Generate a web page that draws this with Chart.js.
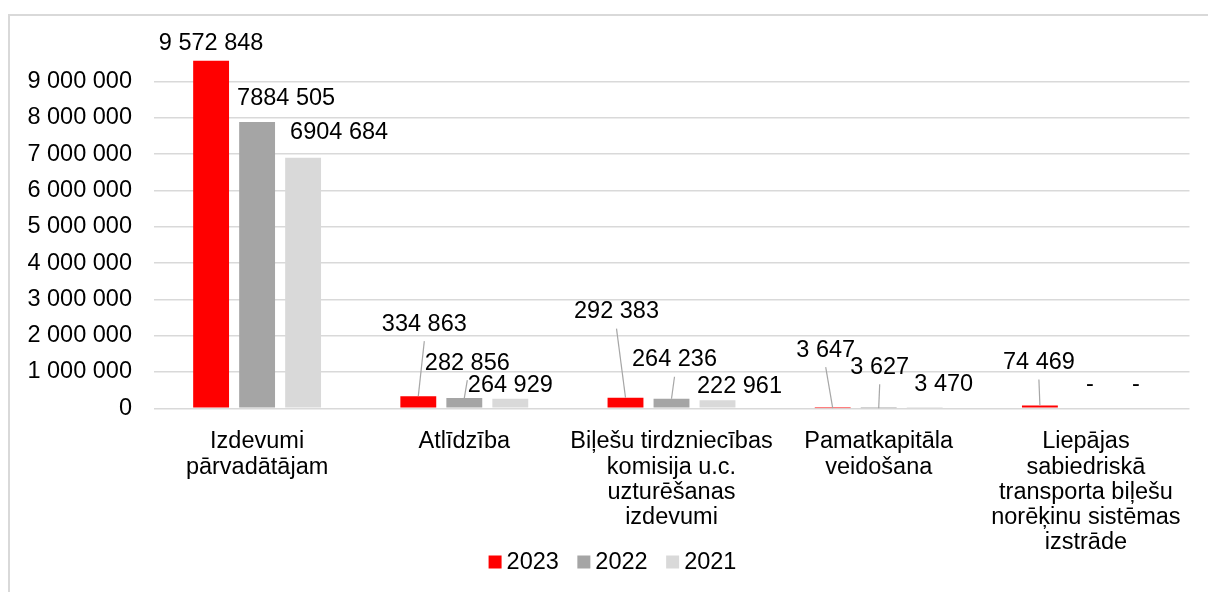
<!DOCTYPE html>
<html>
<head>
<meta charset="utf-8">
<script src="https://cdn.jsdelivr.net/npm/chart.js@4/dist/chart.umd.min.js"></script>
<style>
    html, body { margin: 0; padding: 0; background: #ffffff; }
    #wrap { width: 1208px; height: 592px; position: relative; }
</style>
</head>
<body>
<div id="wrap"><canvas id="costChart"></canvas></div>
<script>
// categories (multi-line, as wrapped in the original)
const categories = [
    ["Izdevumi", "pārvadātājam"],
    ["Atlīdzība"],
    ["Biļešu tirdzniecības", "komisija u.c.", "uzturēšanas", "izdevumi"],
    ["Pamatkapitāla", "veidošana"],
    ["Liepājas", "sabiedriskā", "transporta biļešu", "norēķinu sistēmas", "izstrāde"]
];
const seriesNames = ["2023", "2022", "2021"];

const values2023 = [9572848, 334863, 292383, 3647, 74469];
const values2022 = [7884505, 282856, 264236, 3627, 0];
const values2021 = [6904684, 264929, 222961, 3470, 0];

// data labels exactly as printed on the chart
const labels2023 = ["9 572 848", "334 863", "292 383", "3 647", "74 469"];
const labels2022 = ["7884 505", "282 856", "264 236", "3 627", "-"];
const labels2021 = ["6904 684", "264 929", "222 961", "3 470", "-"];

const yTicks = [0, 1000000, 2000000, 3000000, 4000000, 5000000, 6000000, 7000000, 8000000, 9000000];

const colors = ["#ff0000", "#a5a5a5", "#d9d9d9"];
const FONT = '"Liberation Sans", Arial, sans-serif';
const FSIZE = 23.5;

// where each data label sits, relative to the top centre of its bar
const labelOffsets = [
    [[0, -17], [6, -72], [-9, -86], [-7, -58], [-1, -43]],
    [[29, -24], [3, -35], [3, -39], [1, -41], [4, -24]],
    [[36, -25], [0, -13], [22, -14], [19, -24], [4, -24]]
];
const leaders = [
    [false, true, true, true, true],
    [false, true, true, true, false],
    [false, false, false, false, false]
];
const allLabels = [labels2023, labels2022, labels2021];

function spaced(v) {
    return String(v).replace(/\B(?=(\d{3})+(?!\d))/g, " ");
}

const frame = {
    id: "frame",
    beforeDraw(chart) {
        const c = chart.ctx;
        c.save();
        c.strokeStyle = "#d9d9d9";
        c.lineWidth = 2;
        c.strokeRect(9, 15, 1400, 800);
        c.restore();
    }
};

const dataLabels = {
    id: "dataLabels",
    afterDatasetsDraw(chart) {
        const c = chart.ctx;
        c.save();
        c.font = FSIZE + "px " + FONT;
        c.textAlign = "center";
        c.textBaseline = "middle";
        chart.data.datasets.forEach((ds, i) => {
            const meta = chart.getDatasetMeta(i);
            meta.data.forEach((bar, j) => {
                const lx = bar.x + labelOffsets[i][j][0];
                const ly = bar.y + labelOffsets[i][j][1];
                if (leaders[i][j]) {
                    c.strokeStyle = "#a6a6a6";
                    c.lineWidth = 1.2;
                    c.beginPath();
                    c.moveTo(lx, ly + 17);
                    c.lineTo(bar.x, bar.y);
                    c.stroke();
                }
                c.fillStyle = "#000000";
                c.fillText(allLabels[i][j], lx, ly);
            });
        });
        c.restore();
    }
};

const legendBox = {
    id: "legendBox",
    afterDraw(chart) {
        const c = chart.ctx;
        c.save();
        c.font = FSIZE + "px " + FONT;
        c.textBaseline = "middle";
        const box = 13, gap = 5, spacing = 18.5;
        const widths = seriesNames.map(n => box + gap + c.measureText(n).width);
        const total = widths.reduce((a, b) => a + b, 0) + spacing * (widths.length - 1);
        let x = 612.5 - total / 2;
        const y = 562;
        seriesNames.forEach((n, i) => {
            c.fillStyle = colors[i];
            c.fillRect(x, y - box / 2, box, box);
            c.fillStyle = "#000000";
            c.fillText(n, x + box + gap, y + 1);
            x += widths[i] + spacing;
        });
        c.restore();
    }
};

document.addEventListener("DOMContentLoaded", function() {
    const ctx = document.getElementById("costChart").getContext("2d");

    new Chart(ctx, {
        type: "bar",
        data: {
            labels: categories,
            datasets: [
                { label: seriesNames[0], data: values2023, backgroundColor: colors[0] },
                { label: seriesNames[1], data: values2022, backgroundColor: colors[1] },
                { label: seriesNames[2], data: values2021, backgroundColor: colors[2] }
            ].map(d => Object.assign(d, { categoryPercentage: 0.666, barPercentage: 0.78, borderWidth: 0 }))
        },
        options: {
            responsive: true,
            maintainAspectRatio: false,
            animation: false,
            layout: { padding: { left: 0, right: 18.5, top: 45.3, bottom: 0 } },
            plugins: {
                legend: { display: false },
                tooltip: { enabled: false }
            },
            scales: {
                x: {
                    grid: { display: false },
                    border: { display: false },
                    ticks: {
                        color: "#000000",
                        font: { family: FONT, size: FSIZE, lineHeight: 1.07 },
                        maxRotation: 0,
                        autoSkip: false,
                        padding: 13
                    },
                    afterFit(scale) { scale.height = 592 - 408.3; }
                },
                y: {
                    min: 0,
                    max: 10000000,
                    afterBuildTicks(scale) {
                        scale.ticks = yTicks.map(v => ({ value: v }));
                    },
                    grid: { color: "#d9d9d9", lineWidth: 1.5, drawTicks: false },
                    border: { display: false },
                    ticks: {
                        color: "#000000",
                        font: { family: FONT, size: FSIZE },
                        padding: 21.5,
                        callback: v => spaced(v)
                    },
                    afterFit(scale) { scale.width = 153.5; }
                }
            }
        },
        plugins: [frame, dataLabels, legendBox]
    });
});
</script>
</body>
</html>
